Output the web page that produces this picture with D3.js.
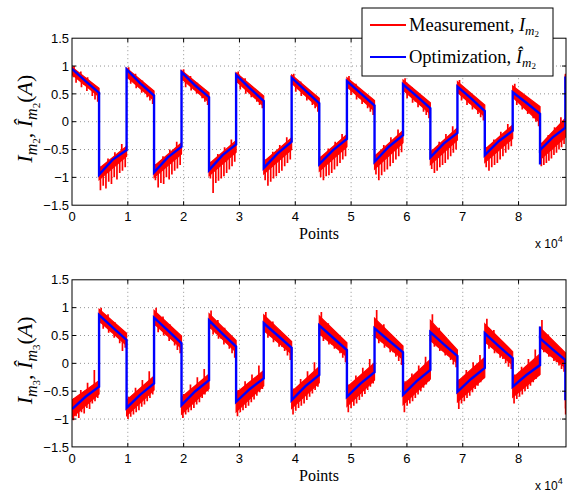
<!DOCTYPE html>
<html>
<head>
<meta charset="utf-8">
<script src="https://cdn.jsdelivr.net/npm/d3@7"></script>
<style>
  body { margin: 0; background: #fff; }
  svg { display: block; }
</style>
</head>
<body>
<div id="chart"></div>
<script>
// switching instants (points) shared by both panels
const edges = [0, 4850, 9780, 14700, 19620, 24550, 29400, 34350, 39350, 44300,
               49250, 54200, 59300, 64200, 69050, 73950, 78950, 83850, 88380, 88500];

const xTicks = [0, 1e4, 2e4, 3e4, 4e4, 5e4, 6e4, 7e4, 8e4];
const yTicks = [-1.5, -1, -0.5, 0, 0.5, 1, 1.5];

// optimization (blue): [start, mid, end] of every half cycle
const optM2 = [
  [0.95, 0.73, 0.52], [-0.95, -0.68, -0.51], [0.94, 0.69, 0.47], [-0.91, -0.64, -0.45],
  [0.89, 0.65, 0.44], [-0.87, -0.60, -0.41], [0.84, 0.60, 0.37], [-0.83, -0.57, -0.36],
  [0.79, 0.56, 0.33], [-0.76, -0.51, -0.31], [0.73, 0.51, 0.29], [-0.72, -0.45, -0.24],
  [0.67, 0.46, 0.24], [-0.64, -0.39, -0.20], [0.63, 0.42, 0.19], [-0.60, -0.35, -0.16],
  [0.53, 0.34, 0.14], [-0.51, -0.28, -0.11], [0.79, 0.79, 0.79]
];
const optM3 = [
  [-0.82, -0.60, -0.42], [0.87, 0.64, 0.42], [-0.80, -0.56, -0.36], [0.82, 0.59, 0.36],
  [-0.75, -0.50, -0.30], [0.77, 0.53, 0.30], [-0.69, -0.46, -0.27], [0.72, 0.50, 0.28],
  [-0.66, -0.41, -0.21], [0.68, 0.46, 0.24], [-0.60, -0.36, -0.16], [0.63, 0.41, 0.20],
  [-0.56, -0.32, -0.12], [0.56, 0.34, 0.13], [-0.51, -0.28, -0.08], [0.54, 0.31, 0.09],
  [-0.42, -0.21, -0.03], [0.45, 0.25, 0.06], [-0.64, -0.64, -0.64]
];
// short glitches of the optimized curve at a switching instant: [x, value]
const glitchM2 = [[83850, -0.77]];
const glitchM3 = [[83850, 0.66]];

// measurement (red) noise band: [upper start, upper end, lower start, lower end]
const bandM2 = [
  [0.98, 0.60, 0.85, 0.45], [-0.84, -0.44, -1.04, -0.62], [0.96, 0.55, 0.81, 0.38],
  [-0.80, -0.38, -1.00, -0.58], [0.92, 0.52, 0.77, 0.35], [-0.76, -0.34, -0.97, -0.55],
  [0.88, 0.46, 0.73, 0.28], [-0.72, -0.29, -0.94, -0.50], [0.84, 0.42, 0.69, 0.24],
  [-0.66, -0.23, -0.89, -0.45], [0.79, 0.38, 0.63, 0.19], [-0.62, -0.16, -0.85, -0.38],
  [0.75, 0.34, 0.57, 0.14], [-0.55, -0.11, -0.77, -0.33], [0.72, 0.30, 0.53, 0.09],
  [-0.50, -0.06, -0.73, -0.30], [0.64, 0.27, 0.44, -0.02], [-0.42, 0.06, -0.68, -0.28],
  [0.85, 0.85, 0.60, 0.60]
];
const bandM3 = [
  [-0.66, -0.31, -0.97, -0.55], [0.97, 0.54, 0.76, 0.32], [-0.66, -0.23, -0.94, -0.48],
  [0.95, 0.49, 0.71, 0.27], [-0.61, -0.19, -0.91, -0.45], [0.89, 0.41, 0.66, 0.20],
  [-0.53, -0.13, -0.87, -0.40], [0.87, 0.39, 0.59, 0.17], [-0.51, -0.06, -0.81, -0.35],
  [0.85, 0.37, 0.53, 0.12], [-0.43, 0.01, -0.77, -0.30], [0.81, 0.31, 0.49, 0.07],
  [-0.39, 0.07, -0.74, -0.28], [0.77, 0.24, 0.41, 0.00], [-0.33, 0.11, -0.69, -0.25],
  [0.71, 0.21, 0.39, -0.03], [-0.26, 0.17, -0.61, -0.20], [0.64, 0.19, 0.29, -0.08],
  [-0.50, -0.50, -0.80, -0.80]
];

// measurement spike tips per half cycle, lower side and upper side
const lowM2 = [
  [0.80, 0.70, 0.76, 0.62, 0.66, 0.55, 0.60, 0.46, 0.40, 0.36],
  [-1.23, -1.15, -1.20, -1.08, -1.12, -1.00, -1.04, -0.92, -0.88, -0.82],
  [0.78, 0.68, 0.72, 0.60, 0.62, 0.52, 0.55, 0.44, 0.38, 0.32],
  [-1.05, -1.18, -1.10, -1.12, -1.00, -1.04, -0.95, -0.88, -0.84, -0.78],
  [0.74, 0.62, 0.68, 0.56, 0.58, 0.50, 0.52, 0.42, 0.36, 0.30],
  [-1.02, -1.28, -1.10, -1.06, -1.02, -0.98, -0.92, -0.86, -0.80, -0.72],
  [0.70, 0.58, 0.62, 0.50, 0.54, 0.44, 0.46, 0.36, 0.30, 0.24],
  [-1.05, -1.15, -1.08, -1.02, -0.98, -0.92, -0.88, -0.80, -0.74, -0.68],
  [0.66, 0.54, 0.58, 0.46, 0.48, 0.38, 0.40, 0.30, 0.24, 0.18],
  [-1.00, -1.05, -0.98, -0.96, -0.92, -0.86, -0.80, -0.74, -0.68, -0.62],
  [0.60, 0.48, 0.52, 0.40, 0.42, 0.32, 0.34, 0.24, 0.18, 0.12],
  [-0.95, -1.05, -0.96, -0.90, -0.86, -0.80, -0.74, -0.68, -0.62, -0.55],
  [0.55, 0.42, 0.46, 0.34, 0.36, 0.26, 0.28, 0.18, 0.12, 0.06],
  [-0.85, -0.92, -0.88, -0.82, -0.78, -0.74, -0.68, -0.62, -0.56, -0.50],
  [0.50, 0.38, 0.42, 0.30, 0.32, 0.22, 0.24, 0.14, 0.08, 0.02],
  [-0.82, -0.88, -0.82, -0.78, -0.74, -0.68, -0.62, -0.56, -0.50, -0.44],
  [0.42, 0.30, 0.34, 0.22, 0.24, 0.14, 0.16, 0.06, 0.00, -0.08],
  [-0.80, -0.78, -0.74, -0.70, -0.66, -0.60, -0.56, -0.50, -0.46, -0.40],
  [0.55]
];
const highM2 = [
  [1.00, 0.90, 0.80, 0.66], [-0.80, -0.66, -0.55, -0.40], [0.98, 0.86, 0.74, 0.58],
  [-0.76, -0.62, -0.50, -0.36], [0.94, 0.82, 0.70, 0.55], [-0.72, -0.58, -0.46, -0.32],
  [0.90, 0.78, 0.64, 0.48], [-0.68, -0.54, -0.42, -0.28], [0.86, 0.72, 0.58, 0.44],
  [-0.62, -0.48, -0.36, -0.22], [0.82, 0.68, 0.54, 0.40], [-0.58, -0.42, -0.28, -0.14],
  [0.78, 0.62, 0.50, 0.36], [-0.50, -0.36, -0.22, -0.08], [0.75, 0.58, 0.46, 0.32],
  [-0.46, -0.32, -0.18, -0.04], [0.68, 0.52, 0.40, 0.30], [-0.38, -0.24, -0.10, 0.08],
  [0.85]
];
const lowM3 = [
  [-1.02, -0.95, -0.98, -0.88, -0.90, -0.80, -0.82, -0.72, -0.68, -0.62],
  [0.72, 0.62, 0.66, 0.55, 0.56, 0.46, 0.48, 0.36, 0.22, 0.28],
  [-1.00, -0.96, -0.92, -0.88, -0.84, -0.78, -0.74, -0.68, -0.62, -0.56],
  [0.68, 0.56, 0.60, 0.50, 0.50, 0.40, 0.42, 0.32, 0.24, 0.18],
  [-0.98, -0.92, -0.88, -0.84, -0.80, -0.74, -0.70, -0.62, -0.56, -0.50],
  [0.62, 0.52, 0.54, 0.44, 0.44, 0.34, 0.36, 0.26, 0.18, 0.10],
  [-0.95, -0.88, -0.84, -0.80, -0.76, -0.70, -0.65, -0.58, -0.52, -0.46],
  [0.56, 0.46, 0.48, 0.38, 0.40, 0.30, 0.30, 0.22, 0.14, 0.06],
  [-0.92, -0.85, -0.80, -0.76, -0.72, -0.66, -0.60, -0.54, -0.48, -0.42],
  [0.50, 0.40, 0.44, 0.34, 0.34, 0.26, 0.26, 0.18, 0.10, 0.02],
  [-0.88, -0.80, -0.76, -0.72, -0.66, -0.60, -0.55, -0.48, -0.42, -0.36],
  [0.46, 0.36, 0.38, 0.28, 0.30, 0.20, 0.20, 0.12, 0.04, -0.03],
  [-0.88, -0.76, -0.72, -0.68, -0.62, -0.56, -0.50, -0.44, -0.38, -0.32],
  [0.40, 0.30, 0.32, 0.22, 0.22, 0.14, 0.14, 0.06, -0.02, -0.07],
  [-0.82, -0.72, -0.68, -0.62, -0.58, -0.52, -0.46, -0.40, -0.34, -0.28],
  [0.36, 0.26, 0.28, 0.18, 0.18, 0.10, 0.08, 0.00, -0.06, -0.10],
  [-0.72, -0.64, -0.60, -0.56, -0.50, -0.46, -0.40, -0.34, -0.28, -0.22],
  [0.30, 0.20, 0.22, 0.12, 0.12, 0.04, 0.02, -0.04, -0.10, -0.15],
  [-0.92]
];
const highM3 = [
  [-0.62, -0.48, -0.35, -0.12], [1.00, 0.88, 0.74, 0.60], [-0.60, -0.44, -0.30, -0.14],
  [1.00, 0.84, 0.70, 0.55], [-0.55, -0.38, -0.25, -0.10], [0.95, 0.78, 0.64, 0.48],
  [-0.48, -0.32, -0.20, -0.04], [0.92, 0.75, 0.60, 0.45], [-0.45, -0.28, -0.14, 0.02],
  [0.92, 0.72, 0.56, 0.42], [-0.38, -0.22, -0.08, 0.08], [0.96, 0.70, 0.52, 0.38],
  [-0.32, -0.18, -0.04, 0.12], [0.88, 0.64, 0.46, 0.32], [-0.28, -0.12, 0.02, 0.15],
  [0.80, 0.60, 0.42, 0.28], [-0.20, -0.06, 0.08, 0.25], [0.78, 0.52, 0.36, 0.24],
  [-0.50]
];

const W = 568, H = 492;
const svg = d3.select("#chart").append("svg")
    .attr("width", W)
    .attr("height", H);

const x = d3.scaleLinear().domain([0, 88500]).range([72, 566]);

function blueAt(opt, v) {
    let i = d3.bisectRight(edges, v) - 1;
    i = Math.max(0, Math.min(opt.length - 1, i));
    const x0 = edges[i], x1 = edges[i + 1], xm = (x0 + x1) / 2, s = opt[i];
    if (v < xm) return s[0] + (s[1] - s[0]) * (v - x0) / (xm - x0);
    return s[1] + (s[2] - s[1]) * (v - xm) / (x1 - xm);
}

// place the tips of one half cycle evenly across it
function tipsOf(list, shift) {
    const out = [];
    list.forEach((tips, i) => {
        const x0 = edges[i], x1 = edges[i + 1];
        tips.forEach((v, k) => out.push([x0 + (k + shift) / tips.length * (x1 - x0), v]));
    });
    return out;
}

function drawPanel(id, top, bottom, opt, band, low, high, glitch, sub) {
    const y = d3.scaleLinear().domain([-1.5, 1.5]).range([bottom, top]);
    const g = svg.append("g");

    g.append("clipPath").attr("id", "clip" + id)
      .append("rect")
        .attr("x", x.range()[0]).attr("y", top)
        .attr("width", x.range()[1] - x.range()[0]).attr("height", bottom - top);

    // dotted grid
    g.append("g").selectAll("line").data(xTicks.slice(1)).join("line")
        .attr("x1", d => x(d)).attr("x2", d => x(d))
        .attr("y1", top).attr("y2", bottom)
        .attr("stroke", "#777").attr("stroke-width", 0.8).attr("stroke-dasharray", "1,3");
    g.append("g").selectAll("line").data(yTicks.slice(1, -1)).join("line")
        .attr("x1", x.range()[0]).attr("x2", x.range()[1])
        .attr("y1", d => y(d)).attr("y2", d => y(d))
        .attr("stroke", "#777").attr("stroke-width", 0.8).attr("stroke-dasharray", "1,3");

    const plot = g.append("g").attr("clip-path", `url(#clip${id})`);

    // measurement band
    const area = d3.area().x(d => x(d[0])).y0(d => y(d[2])).y1(d => y(d[1]));
    band.forEach((b, i) => {
        plot.append("path")
            .datum([[edges[i], b[0], b[2]], [edges[i + 1], b[1], b[3]]])
            .attr("fill", "#ff0000")
            .attr("stroke", "#ff0000").attr("stroke-width", 1.2)
            .attr("d", area);
    });
    // measurement spikes
    const spikes = tipsOf(low, 0.5).concat(tipsOf(high, 0.3));
    plot.append("g").selectAll("line").data(spikes).join("line")
        .attr("x1", d => x(d[0])).attr("x2", d => x(d[0]))
        .attr("y1", d => y(blueAt(opt, d[0]))).attr("y2", d => y(d[1]))
        .attr("stroke", "#ff0000").attr("stroke-width", 1.7);

    // optimization curve
    const pts = [];
    opt.forEach((s, i) => {
        pts.push([edges[i], s[0]], [(edges[i] + edges[i + 1]) / 2, s[1]], [edges[i + 1], s[2]]);
    });
    plot.append("path").datum(pts)
        .attr("fill", "none").attr("stroke", "#0000ff").attr("stroke-width", 2.4)
        .attr("d", d3.line().x(d => x(d[0])).y(d => y(d[1])));
    plot.append("g").selectAll("line").data(glitch).join("line")
        .attr("x1", d => x(d[0])).attr("x2", d => x(d[0]))
        .attr("y1", d => y(blueAt(opt, d[0] + 1))).attr("y2", d => y(d[1]))
        .attr("stroke", "#0000ff").attr("stroke-width", 2.4);

    // axes box with inward ticks
    g.append("rect")
        .attr("x", x.range()[0]).attr("y", top)
        .attr("width", x.range()[1] - x.range()[0]).attr("height", bottom - top)
        .attr("fill", "none").attr("stroke", "#000").attr("stroke-width", 1);
    const tl = 4;
    g.append("g").selectAll("path").data(xTicks.slice(1)).join("path")
        .attr("d", d => `M${x(d)},${bottom}v${-tl}M${x(d)},${top}v${tl}`)
        .attr("stroke", "#000");
    g.append("g").selectAll("path").data(yTicks.slice(1, -1)).join("path")
        .attr("d", d => `M${x.range()[0]},${y(d)}h${tl}M${x.range()[1]},${y(d)}h${-tl}`)
        .attr("stroke", "#000");

    // tick labels
    const fmt = v => String(v).replace("-", "\u2212");
    g.append("g").selectAll("text").data(yTicks).join("text")
        .attr("x", x.range()[0] - 3).attr("y", d => y(d)).attr("dy", "0.36em")
        .attr("text-anchor", "end")
        .style("font-family", "'Liberation Sans', Arial, sans-serif").style("font-size", "13px")
        .text(fmt);
    g.append("g").selectAll("text").data(xTicks).join("text")
        .attr("x", d => x(d)).attr("y", bottom + 16)
        .attr("text-anchor", "middle")
        .style("font-family", "'Liberation Sans', Arial, sans-serif").style("font-size", "13px")
        .text(d => d / 1e4);

    // x 10^4
    const mult = g.append("text")
        .attr("x", 535).attr("y", bottom + 43)
        .style("font-family", "'Liberation Sans', Arial, sans-serif").style("font-size", "12px");
    mult.append("tspan").text("x 10");
    mult.append("tspan").attr("dy", -6).style("font-size", "9px").text("4");

    // x label
    g.append("text")
        .attr("x", (x.range()[0] + x.range()[1]) / 2).attr("y", bottom + 34)
        .attr("text-anchor", "middle")
        .style("font-family", "'Liberation Serif', serif").style("font-size", "16px")
        .text("Points");

    // y label
    const yl = g.append("text")
        .attr("transform", `translate(32,${(top + bottom) / 2 - 3}) rotate(-90)`)
        .attr("text-anchor", "middle")
        .style("font-family", "'Liberation Serif', serif").style("font-size", "22px");
    yl.append("tspan").style("font-style", "italic").text("I");
    yl.append("tspan").attr("dy", 5).style("font-style", "italic").style("font-size", "16px").text("m");
    yl.append("tspan").attr("dy", 3).style("font-size", "11px").text(sub);
    yl.append("tspan").attr("dy", -8).text(", ");
    yl.append("tspan").style("font-style", "italic").text("\u00CE");
    yl.append("tspan").attr("dy", 5).style("font-style", "italic").style("font-size", "16px").text("m");
    yl.append("tspan").attr("dy", 3).style("font-size", "11px").text(sub);
    yl.append("tspan").attr("dy", -8).text("(");
    yl.append("tspan").style("font-style", "italic").text("A");
    yl.append("tspan").text(")");
}

drawPanel("a", 38.2, 205.2, optM2, bandM2, lowM2, highM2, glitchM2, "2");
drawPanel("b", 279.8, 446.9, optM3, bandM3, lowM3, highM3, glitchM3, "3");

// legend
const leg = svg.append("g");
leg.append("rect")
    .attr("x", 362).attr("y", 8).attr("width", 191).attr("height", 68)
    .attr("fill", "#fff").attr("stroke", "#000").attr("stroke-width", 1);
const legItems = [
    { label: "Measurement, ", sym: "I", color: "#ff0000" },
    { label: "Optimization, ", sym: "\u00CE", color: "#0000ff" }
];
legItems.forEach((d, i) => {
    const cy = 25 + i * 32;
    leg.append("line")
        .attr("x1", 370).attr("x2", 406).attr("y1", cy).attr("y2", cy)
        .attr("stroke", d.color).attr("stroke-width", 2);
    const t = leg.append("text")
        .attr("x", 409).attr("y", cy + 6)
        .style("font-family", "'Liberation Serif', serif").style("font-size", "18.5px");
    t.append("tspan").text(d.label);
    t.append("tspan").style("font-style", "italic").text(d.sym);
    t.append("tspan").attr("dy", 4).style("font-style", "italic").style("font-size", "13px").text("m");
    t.append("tspan").attr("dy", 2).style("font-size", "9px").text("2");
});
</script>
</body>
</html>
